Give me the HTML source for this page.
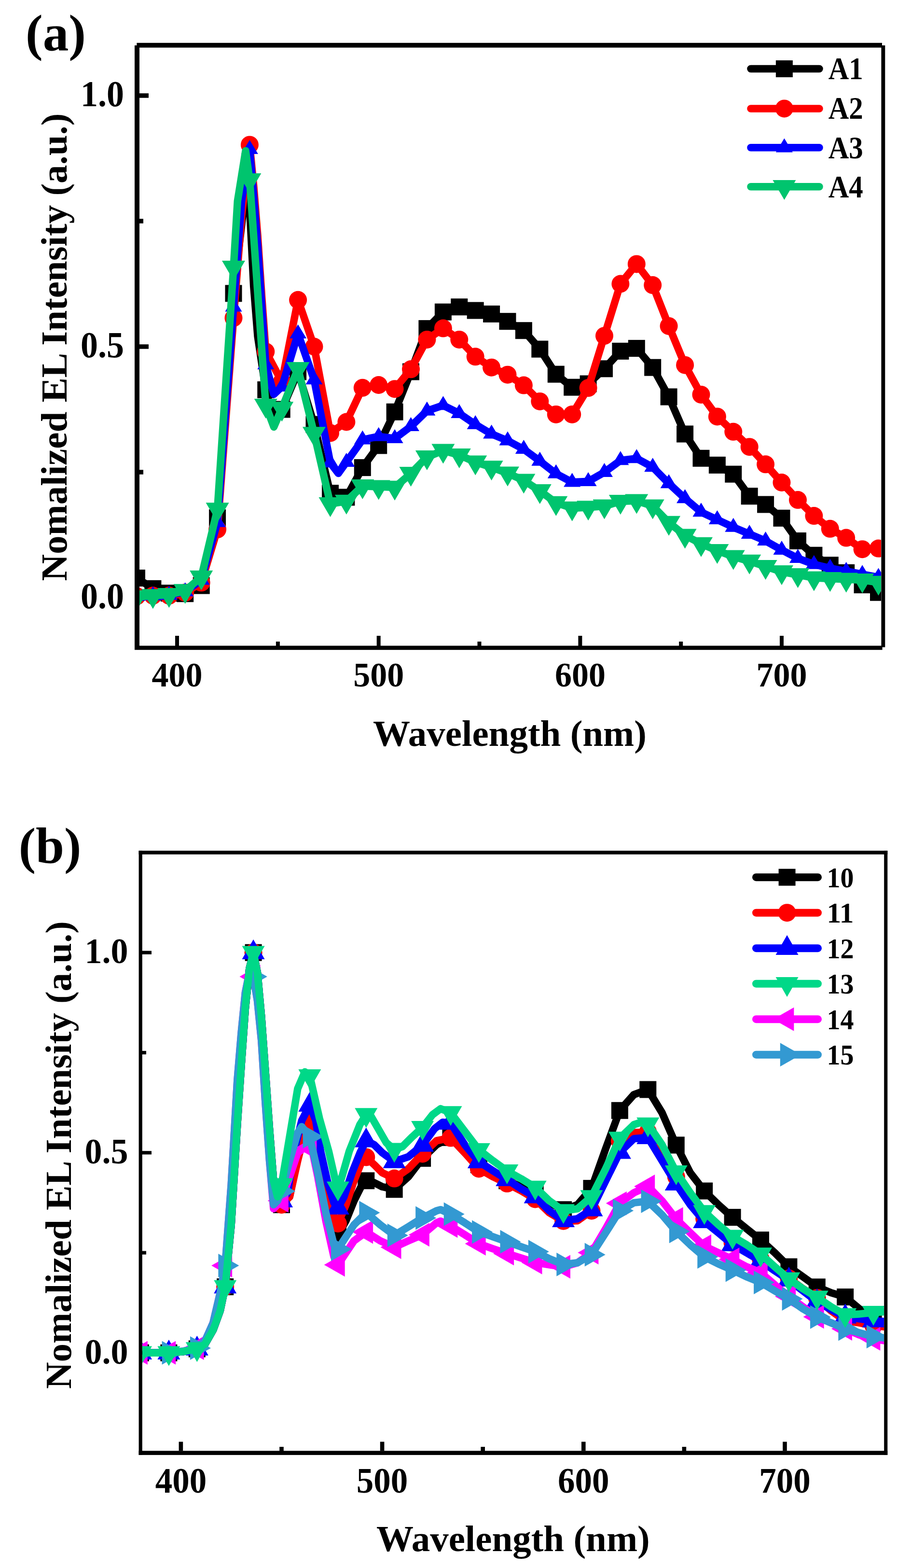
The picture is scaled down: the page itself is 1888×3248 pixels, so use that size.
<!DOCTYPE html>
<html><head><meta charset="utf-8"><title>EL spectra</title><style>html,body{margin:0;padding:0;background:#fff;}svg{display:block;}</style></head><body>
<svg width="1888" height="3248" viewBox="0 0 1888 3248">
<rect width="1888" height="3248" fill="#ffffff"/>
<defs><clipPath id="clipA"><rect x="289" y="99" width="1537" height="1238"/></clipPath><clipPath id="clipB"><rect x="295" y="1770" width="1537" height="1235"/></clipPath></defs>
<g fill="#000">
<rect x="363.0" y="1317" width="8" height="21"/>
<rect x="780.7" y="1317" width="8" height="21"/>
<rect x="1198.4" y="1317" width="8" height="21"/>
<rect x="1616.0" y="1317" width="8" height="21"/>
<rect x="571.9" y="1329" width="8" height="9"/>
<rect x="989.5" y="1329" width="8" height="9"/>
<rect x="1407.2" y="1329" width="8" height="9"/>
<rect x="289" y="1233.3" width="19" height="9.4"/>
<rect x="289" y="713.3" width="19" height="9.4"/>
<rect x="289" y="193.3" width="19" height="9.4"/>
<rect x="289" y="973.3" width="8" height="9.4"/>
<rect x="289" y="453.3" width="8" height="9.4"/>
</g>
<g clip-path="url(#clipA)">
<polyline points="283.5,1197.4 316.9,1219.3 350.3,1228.6 383.7,1229.7 417.2,1213.0 450.6,1072.6 484.0,607.8 509.0,395.6 517.4,429.9 525.7,593.2 534.1,697.2 550.8,807.4 567.5,874.0 584.2,848.0 617.6,770.0 651.0,879.2 684.5,1021.7 717.9,1030.0 751.3,968.6 784.7,922.9 818.1,853.2 851.5,770.0 884.9,680.6 918.4,646.2 951.8,635.8 985.2,643.1 1018.6,650.4 1052.0,665.7 1085.4,684.7 1118.8,723.2 1152.3,775.2 1185.7,802.2 1219.1,795.0 1252.5,763.8 1285.9,727.4 1319.3,721.6 1352.7,761.2 1386.1,822.0 1419.6,899.0 1453.0,949.3 1486.4,963.4 1519.8,982.2 1553.2,1027.8 1586.6,1045.0 1620.0,1073.3 1653.5,1120.4 1686.9,1150.2 1720.3,1170.7 1753.7,1186.3 1787.1,1211.5 1820.5,1227.2" fill="none" stroke="#000000" stroke-width="15.5" stroke-linejoin="round" stroke-linecap="round"/>
<rect x="266.0" y="1179.9" width="35.0" height="35.0" fill="#000000"/>
<rect x="299.4" y="1201.8" width="35.0" height="35.0" fill="#000000"/>
<rect x="332.8" y="1211.1" width="35.0" height="35.0" fill="#000000"/>
<rect x="366.2" y="1212.2" width="35.0" height="35.0" fill="#000000"/>
<rect x="399.7" y="1195.5" width="35.0" height="35.0" fill="#000000"/>
<rect x="433.1" y="1055.1" width="35.0" height="35.0" fill="#000000"/>
<rect x="466.5" y="590.3" width="35.0" height="35.0" fill="#000000"/>
<rect x="499.9" y="412.4" width="35.0" height="35.0" fill="#000000"/>
<rect x="533.3" y="789.9" width="35.0" height="35.0" fill="#000000"/>
<rect x="566.7" y="830.5" width="35.0" height="35.0" fill="#000000"/>
<rect x="600.1" y="752.5" width="35.0" height="35.0" fill="#000000"/>
<rect x="633.5" y="861.7" width="35.0" height="35.0" fill="#000000"/>
<rect x="667.0" y="1004.2" width="35.0" height="35.0" fill="#000000"/>
<rect x="700.4" y="1012.5" width="35.0" height="35.0" fill="#000000"/>
<rect x="733.8" y="951.1" width="35.0" height="35.0" fill="#000000"/>
<rect x="767.2" y="905.4" width="35.0" height="35.0" fill="#000000"/>
<rect x="800.6" y="835.7" width="35.0" height="35.0" fill="#000000"/>
<rect x="834.0" y="752.5" width="35.0" height="35.0" fill="#000000"/>
<rect x="867.4" y="663.1" width="35.0" height="35.0" fill="#000000"/>
<rect x="900.9" y="628.7" width="35.0" height="35.0" fill="#000000"/>
<rect x="934.3" y="618.3" width="35.0" height="35.0" fill="#000000"/>
<rect x="967.7" y="625.6" width="35.0" height="35.0" fill="#000000"/>
<rect x="1001.1" y="632.9" width="35.0" height="35.0" fill="#000000"/>
<rect x="1034.5" y="648.2" width="35.0" height="35.0" fill="#000000"/>
<rect x="1067.9" y="667.2" width="35.0" height="35.0" fill="#000000"/>
<rect x="1101.3" y="705.7" width="35.0" height="35.0" fill="#000000"/>
<rect x="1134.8" y="757.7" width="35.0" height="35.0" fill="#000000"/>
<rect x="1168.2" y="784.7" width="35.0" height="35.0" fill="#000000"/>
<rect x="1201.6" y="777.5" width="35.0" height="35.0" fill="#000000"/>
<rect x="1235.0" y="746.3" width="35.0" height="35.0" fill="#000000"/>
<rect x="1268.4" y="709.9" width="35.0" height="35.0" fill="#000000"/>
<rect x="1301.8" y="704.1" width="35.0" height="35.0" fill="#000000"/>
<rect x="1335.2" y="743.7" width="35.0" height="35.0" fill="#000000"/>
<rect x="1368.6" y="804.5" width="35.0" height="35.0" fill="#000000"/>
<rect x="1402.1" y="881.5" width="35.0" height="35.0" fill="#000000"/>
<rect x="1435.5" y="931.8" width="35.0" height="35.0" fill="#000000"/>
<rect x="1468.9" y="945.9" width="35.0" height="35.0" fill="#000000"/>
<rect x="1502.3" y="964.7" width="35.0" height="35.0" fill="#000000"/>
<rect x="1535.7" y="1010.3" width="35.0" height="35.0" fill="#000000"/>
<rect x="1569.1" y="1027.5" width="35.0" height="35.0" fill="#000000"/>
<rect x="1602.5" y="1055.8" width="35.0" height="35.0" fill="#000000"/>
<rect x="1636.0" y="1102.9" width="35.0" height="35.0" fill="#000000"/>
<rect x="1669.4" y="1132.7" width="35.0" height="35.0" fill="#000000"/>
<rect x="1702.8" y="1153.2" width="35.0" height="35.0" fill="#000000"/>
<rect x="1736.2" y="1168.8" width="35.0" height="35.0" fill="#000000"/>
<rect x="1769.6" y="1194.0" width="35.0" height="35.0" fill="#000000"/>
<rect x="1803.0" y="1209.7" width="35.0" height="35.0" fill="#000000"/>
</g>
<g clip-path="url(#clipA)">
<polyline points="283.5,1234.9 316.9,1233.8 350.3,1233.8 383.7,1227.6 417.2,1206.8 450.6,1096.6 484.0,658.7 500.7,447.6 517.4,299.9 525.7,385.2 534.1,489.2 542.5,614.0 550.8,728.4 584.2,790.8 617.6,621.3 651.0,718.0 684.5,896.9 717.9,874.0 751.3,803.3 784.7,797.5 818.1,805.7 851.5,764.8 884.9,703.4 918.4,680.1 951.8,703.4 985.2,738.8 1018.6,761.2 1052.0,776.2 1085.4,798.1 1118.8,831.4 1152.3,858.4 1185.7,858.4 1219.1,803.6 1252.5,695.7 1285.9,588.0 1319.3,546.9 1352.7,590.6 1386.1,675.4 1419.6,756.2 1453.0,817.4 1486.4,862.9 1519.8,894.3 1553.2,925.7 1586.6,961.8 1620.0,999.5 1653.5,1035.6 1686.9,1068.6 1720.3,1095.3 1753.7,1114.1 1787.1,1137.7 1820.5,1136.1" fill="none" stroke="#ff0000" stroke-width="15.5" stroke-linejoin="round" stroke-linecap="round"/>
<circle cx="283.5" cy="1234.9" r="18.5" fill="#ff0000"/>
<circle cx="316.9" cy="1233.8" r="18.5" fill="#ff0000"/>
<circle cx="350.3" cy="1233.8" r="18.5" fill="#ff0000"/>
<circle cx="383.7" cy="1227.6" r="18.5" fill="#ff0000"/>
<circle cx="417.2" cy="1206.8" r="18.5" fill="#ff0000"/>
<circle cx="450.6" cy="1096.6" r="18.5" fill="#ff0000"/>
<circle cx="484.0" cy="658.7" r="18.5" fill="#ff0000"/>
<circle cx="517.4" cy="299.9" r="18.5" fill="#ff0000"/>
<circle cx="550.8" cy="728.4" r="18.5" fill="#ff0000"/>
<circle cx="584.2" cy="790.8" r="18.5" fill="#ff0000"/>
<circle cx="617.6" cy="621.3" r="18.5" fill="#ff0000"/>
<circle cx="651.0" cy="718.0" r="18.5" fill="#ff0000"/>
<circle cx="684.5" cy="896.9" r="18.5" fill="#ff0000"/>
<circle cx="717.9" cy="874.0" r="18.5" fill="#ff0000"/>
<circle cx="751.3" cy="803.3" r="18.5" fill="#ff0000"/>
<circle cx="784.7" cy="797.5" r="18.5" fill="#ff0000"/>
<circle cx="818.1" cy="805.7" r="18.5" fill="#ff0000"/>
<circle cx="851.5" cy="764.8" r="18.5" fill="#ff0000"/>
<circle cx="884.9" cy="703.4" r="18.5" fill="#ff0000"/>
<circle cx="918.4" cy="680.1" r="18.5" fill="#ff0000"/>
<circle cx="951.8" cy="703.4" r="18.5" fill="#ff0000"/>
<circle cx="985.2" cy="738.8" r="18.5" fill="#ff0000"/>
<circle cx="1018.6" cy="761.2" r="18.5" fill="#ff0000"/>
<circle cx="1052.0" cy="776.2" r="18.5" fill="#ff0000"/>
<circle cx="1085.4" cy="798.1" r="18.5" fill="#ff0000"/>
<circle cx="1118.8" cy="831.4" r="18.5" fill="#ff0000"/>
<circle cx="1152.3" cy="858.4" r="18.5" fill="#ff0000"/>
<circle cx="1185.7" cy="858.4" r="18.5" fill="#ff0000"/>
<circle cx="1219.1" cy="803.6" r="18.5" fill="#ff0000"/>
<circle cx="1252.5" cy="695.7" r="18.5" fill="#ff0000"/>
<circle cx="1285.9" cy="588.0" r="18.5" fill="#ff0000"/>
<circle cx="1319.3" cy="546.9" r="18.5" fill="#ff0000"/>
<circle cx="1352.7" cy="590.6" r="18.5" fill="#ff0000"/>
<circle cx="1386.1" cy="675.4" r="18.5" fill="#ff0000"/>
<circle cx="1419.6" cy="756.2" r="18.5" fill="#ff0000"/>
<circle cx="1453.0" cy="817.4" r="18.5" fill="#ff0000"/>
<circle cx="1486.4" cy="862.9" r="18.5" fill="#ff0000"/>
<circle cx="1519.8" cy="894.3" r="18.5" fill="#ff0000"/>
<circle cx="1553.2" cy="925.7" r="18.5" fill="#ff0000"/>
<circle cx="1586.6" cy="961.8" r="18.5" fill="#ff0000"/>
<circle cx="1620.0" cy="999.5" r="18.5" fill="#ff0000"/>
<circle cx="1653.5" cy="1035.6" r="18.5" fill="#ff0000"/>
<circle cx="1686.9" cy="1068.6" r="18.5" fill="#ff0000"/>
<circle cx="1720.3" cy="1095.3" r="18.5" fill="#ff0000"/>
<circle cx="1753.7" cy="1114.1" r="18.5" fill="#ff0000"/>
<circle cx="1787.1" cy="1137.7" r="18.5" fill="#ff0000"/>
<circle cx="1820.5" cy="1136.1" r="18.5" fill="#ff0000"/>
</g>
<g clip-path="url(#clipA)">
<polyline points="283.5,1234.9 316.9,1233.8 350.3,1232.8 383.7,1225.5 417.2,1201.6 450.6,1082.0 484.0,635.8 500.7,416.4 517.4,309.3 525.7,406.0 534.1,510.0 542.5,634.8 550.8,755.4 567.5,816.8 584.2,801.2 617.6,691.3 651.0,786.6 684.5,958.6 701.2,980.5 717.9,957.2 751.3,910.8 784.7,904.2 818.1,908.3 851.5,883.4 884.9,851.1 918.4,839.7 951.8,856.3 985.2,879.2 1018.6,899.0 1052.0,912.8 1085.4,930.5 1118.8,955.1 1152.3,981.1 1185.7,998.8 1219.1,997.3 1252.5,978.3 1285.9,953.7 1319.3,949.6 1352.7,967.6 1386.1,1001.5 1419.6,1032.5 1453.0,1060.7 1486.4,1076.4 1519.8,1092.1 1553.2,1106.2 1586.6,1120.4 1620.0,1139.2 1653.5,1156.5 1686.9,1169.0 1720.3,1177.0 1753.7,1183.2 1787.1,1189.5 1820.5,1195.8" fill="none" stroke="#0000ff" stroke-width="15.5" stroke-linejoin="round" stroke-linecap="round"/>
<polygon points="283.5,1215.5 301.0,1244.5 266.0,1244.5" fill="#0000ff"/>
<polygon points="316.9,1214.5 334.4,1243.5 299.4,1243.5" fill="#0000ff"/>
<polygon points="350.3,1213.5 367.8,1242.5 332.8,1242.5" fill="#0000ff"/>
<polygon points="383.7,1206.2 401.2,1235.2 366.2,1235.2" fill="#0000ff"/>
<polygon points="417.2,1182.3 434.7,1211.3 399.7,1211.3" fill="#0000ff"/>
<polygon points="450.6,1062.7 468.1,1091.7 433.1,1091.7" fill="#0000ff"/>
<polygon points="484.0,616.5 501.5,645.5 466.5,645.5" fill="#0000ff"/>
<polygon points="517.4,289.9 534.9,318.9 499.9,318.9" fill="#0000ff"/>
<polygon points="550.8,736.1 568.3,765.1 533.3,765.1" fill="#0000ff"/>
<polygon points="584.2,781.9 601.7,810.9 566.7,810.9" fill="#0000ff"/>
<polygon points="617.6,671.9 635.1,700.9 600.1,700.9" fill="#0000ff"/>
<polygon points="651.0,767.3 668.5,796.3 633.5,796.3" fill="#0000ff"/>
<polygon points="684.5,939.2 702.0,968.2 667.0,968.2" fill="#0000ff"/>
<polygon points="717.9,937.9 735.4,966.9 700.4,966.9" fill="#0000ff"/>
<polygon points="751.3,891.5 768.8,920.5 733.8,920.5" fill="#0000ff"/>
<polygon points="784.7,884.8 802.2,913.8 767.2,913.8" fill="#0000ff"/>
<polygon points="818.1,889.0 835.6,918.0 800.6,918.0" fill="#0000ff"/>
<polygon points="851.5,864.0 869.0,893.0 834.0,893.0" fill="#0000ff"/>
<polygon points="884.9,831.8 902.4,860.8 867.4,860.8" fill="#0000ff"/>
<polygon points="918.4,820.3 935.9,849.3 900.9,849.3" fill="#0000ff"/>
<polygon points="951.8,837.0 969.3,866.0 934.3,866.0" fill="#0000ff"/>
<polygon points="985.2,859.9 1002.7,888.9 967.7,888.9" fill="#0000ff"/>
<polygon points="1018.6,879.6 1036.1,908.6 1001.1,908.6" fill="#0000ff"/>
<polygon points="1052.0,893.5 1069.5,922.5 1034.5,922.5" fill="#0000ff"/>
<polygon points="1085.4,911.1 1102.9,940.1 1067.9,940.1" fill="#0000ff"/>
<polygon points="1118.8,935.8 1136.3,964.8 1101.3,964.8" fill="#0000ff"/>
<polygon points="1152.3,961.8 1169.8,990.8 1134.8,990.8" fill="#0000ff"/>
<polygon points="1185.7,979.5 1203.2,1008.5 1168.2,1008.5" fill="#0000ff"/>
<polygon points="1219.1,978.0 1236.6,1007.0 1201.6,1007.0" fill="#0000ff"/>
<polygon points="1252.5,959.0 1270.0,988.0 1235.0,988.0" fill="#0000ff"/>
<polygon points="1285.9,934.3 1303.4,963.3 1268.4,963.3" fill="#0000ff"/>
<polygon points="1319.3,930.3 1336.8,959.3 1301.8,959.3" fill="#0000ff"/>
<polygon points="1352.7,948.3 1370.2,977.3 1335.2,977.3" fill="#0000ff"/>
<polygon points="1386.1,982.2 1403.6,1011.2 1368.6,1011.2" fill="#0000ff"/>
<polygon points="1419.6,1013.2 1437.1,1042.2 1402.1,1042.2" fill="#0000ff"/>
<polygon points="1453.0,1041.3 1470.5,1070.3 1435.5,1070.3" fill="#0000ff"/>
<polygon points="1486.4,1057.1 1503.9,1086.1 1468.9,1086.1" fill="#0000ff"/>
<polygon points="1519.8,1072.8 1537.3,1101.8 1502.3,1101.8" fill="#0000ff"/>
<polygon points="1553.2,1086.9 1570.7,1115.9 1535.7,1115.9" fill="#0000ff"/>
<polygon points="1586.6,1101.0 1604.1,1130.0 1569.1,1130.0" fill="#0000ff"/>
<polygon points="1620.0,1119.9 1637.5,1148.9 1602.5,1148.9" fill="#0000ff"/>
<polygon points="1653.5,1137.1 1671.0,1166.1 1636.0,1166.1" fill="#0000ff"/>
<polygon points="1686.9,1149.7 1704.4,1178.7 1669.4,1178.7" fill="#0000ff"/>
<polygon points="1720.3,1157.6 1737.8,1186.6 1702.8,1186.6" fill="#0000ff"/>
<polygon points="1753.7,1163.9 1771.2,1192.9 1736.2,1192.9" fill="#0000ff"/>
<polygon points="1787.1,1170.2 1804.6,1199.2 1769.6,1199.2" fill="#0000ff"/>
<polygon points="1820.5,1176.4 1838.0,1205.4 1803.0,1205.4" fill="#0000ff"/>
</g>
<g clip-path="url(#clipA)">
<polyline points="283.5,1236.4 316.9,1233.8 350.3,1231.8 383.7,1223.4 417.2,1195.4 450.6,1055.0 484.0,553.7 492.3,416.4 509.0,312.4 517.4,372.7 550.8,839.7 567.5,884.4 584.2,845.9 617.6,763.8 651.0,897.9 684.5,1043.5 717.9,1038.3 751.3,1006.7 784.7,1008.2 818.1,1009.4 851.5,980.8 884.9,946.8 918.4,933.3 951.8,942.6 985.2,957.2 1018.6,968.0 1052.0,980.1 1085.4,995.1 1118.8,1016.8 1152.3,1041.4 1185.7,1052.4 1219.1,1051.0 1252.5,1048.2 1285.9,1038.6 1319.3,1037.3 1352.7,1048.2 1386.1,1082.4 1419.6,1109.0 1453.0,1126.4 1486.4,1140.6 1519.8,1153.1 1553.2,1162.5 1586.6,1173.5 1620.0,1184.5 1653.5,1190.7 1686.9,1197.0 1720.3,1198.6 1753.7,1200.1 1787.1,1201.7 1820.5,1206.4" fill="none" stroke="#00c46e" stroke-width="15.5" stroke-linejoin="round" stroke-linecap="round"/>
<polygon points="283.5,1263.8 307.5,1222.8 259.5,1222.8" fill="#00c46e"/>
<polygon points="316.9,1261.2 340.9,1220.2 292.9,1220.2" fill="#00c46e"/>
<polygon points="350.3,1259.1 374.3,1218.1 326.3,1218.1" fill="#00c46e"/>
<polygon points="383.7,1250.8 407.7,1209.8 359.7,1209.8" fill="#00c46e"/>
<polygon points="417.2,1222.7 441.2,1181.7 393.2,1181.7" fill="#00c46e"/>
<polygon points="450.6,1082.3 474.6,1041.3 426.6,1041.3" fill="#00c46e"/>
<polygon points="484.0,581.0 508.0,540.0 460.0,540.0" fill="#00c46e"/>
<polygon points="517.4,400.1 541.4,359.1 493.4,359.1" fill="#00c46e"/>
<polygon points="550.8,867.0 574.8,826.0 526.8,826.0" fill="#00c46e"/>
<polygon points="584.2,873.3 608.2,832.3 560.2,832.3" fill="#00c46e"/>
<polygon points="617.6,791.1 641.6,750.1 593.6,750.1" fill="#00c46e"/>
<polygon points="651.0,925.3 675.0,884.3 627.0,884.3" fill="#00c46e"/>
<polygon points="684.5,1070.9 708.5,1029.9 660.5,1029.9" fill="#00c46e"/>
<polygon points="717.9,1065.7 741.9,1024.7 693.9,1024.7" fill="#00c46e"/>
<polygon points="751.3,1034.0 775.3,993.0 727.3,993.0" fill="#00c46e"/>
<polygon points="784.7,1035.5 808.7,994.5 760.7,994.5" fill="#00c46e"/>
<polygon points="818.1,1036.7 842.1,995.7 794.1,995.7" fill="#00c46e"/>
<polygon points="851.5,1008.1 875.5,967.1 827.5,967.1" fill="#00c46e"/>
<polygon points="884.9,974.1 908.9,933.1 860.9,933.1" fill="#00c46e"/>
<polygon points="918.4,960.6 942.4,919.6 894.4,919.6" fill="#00c46e"/>
<polygon points="951.8,970.0 975.8,929.0 927.8,929.0" fill="#00c46e"/>
<polygon points="985.2,984.5 1009.2,943.5 961.2,943.5" fill="#00c46e"/>
<polygon points="1018.6,995.3 1042.6,954.3 994.6,954.3" fill="#00c46e"/>
<polygon points="1052.0,1007.4 1076.0,966.4 1028.0,966.4" fill="#00c46e"/>
<polygon points="1085.4,1022.4 1109.4,981.4 1061.4,981.4" fill="#00c46e"/>
<polygon points="1118.8,1044.1 1142.8,1003.1 1094.8,1003.1" fill="#00c46e"/>
<polygon points="1152.3,1068.8 1176.3,1027.8 1128.3,1027.8" fill="#00c46e"/>
<polygon points="1185.7,1079.7 1209.7,1038.7 1161.7,1038.7" fill="#00c46e"/>
<polygon points="1219.1,1078.3 1243.1,1037.3 1195.1,1037.3" fill="#00c46e"/>
<polygon points="1252.5,1075.5 1276.5,1034.5 1228.5,1034.5" fill="#00c46e"/>
<polygon points="1285.9,1066.0 1309.9,1025.0 1261.9,1025.0" fill="#00c46e"/>
<polygon points="1319.3,1064.6 1343.3,1023.6 1295.3,1023.6" fill="#00c46e"/>
<polygon points="1352.7,1075.5 1376.7,1034.5 1328.7,1034.5" fill="#00c46e"/>
<polygon points="1386.1,1109.7 1410.1,1068.7 1362.1,1068.7" fill="#00c46e"/>
<polygon points="1419.6,1136.4 1443.6,1095.4 1395.6,1095.4" fill="#00c46e"/>
<polygon points="1453.0,1153.7 1477.0,1112.7 1429.0,1112.7" fill="#00c46e"/>
<polygon points="1486.4,1167.9 1510.4,1126.9 1462.4,1126.9" fill="#00c46e"/>
<polygon points="1519.8,1180.5 1543.8,1139.5 1495.8,1139.5" fill="#00c46e"/>
<polygon points="1553.2,1189.8 1577.2,1148.8 1529.2,1148.8" fill="#00c46e"/>
<polygon points="1586.6,1200.9 1610.6,1159.9 1562.6,1159.9" fill="#00c46e"/>
<polygon points="1620.0,1211.9 1644.0,1170.9 1596.0,1170.9" fill="#00c46e"/>
<polygon points="1653.5,1218.0 1677.5,1177.0 1629.5,1177.0" fill="#00c46e"/>
<polygon points="1686.9,1224.4 1710.9,1183.4 1662.9,1183.4" fill="#00c46e"/>
<polygon points="1720.3,1225.9 1744.3,1184.9 1696.3,1184.9" fill="#00c46e"/>
<polygon points="1753.7,1227.5 1777.7,1186.5 1729.7,1186.5" fill="#00c46e"/>
<polygon points="1787.1,1229.0 1811.1,1188.0 1763.1,1188.0" fill="#00c46e"/>
<polygon points="1820.5,1233.7 1844.5,1192.7 1796.5,1192.7" fill="#00c46e"/>
</g>
<g fill="#000">
<rect x="279" y="94" width="10" height="1250"/>
<rect x="283.4" y="88.8" width="1544.6" height="9.8"/>
<rect x="1826.4" y="94" width="7.9" height="1246.6"/>
<rect x="279" y="1337.6" width="1549.6" height="8.6"/>
</g>
<text transform="translate(257,1259.5) scale(1,1.05)" text-anchor="end" style="font-family:'Liberation Serif','Times New Roman',serif;font-weight:bold;font-size:72px">0.0</text>
<text transform="translate(257,739.5) scale(1,1.05)" text-anchor="end" style="font-family:'Liberation Serif','Times New Roman',serif;font-weight:bold;font-size:72px">0.5</text>
<text transform="translate(257,219.5) scale(1,1.05)" text-anchor="end" style="font-family:'Liberation Serif','Times New Roman',serif;font-weight:bold;font-size:72px">1.0</text>
<text transform="translate(367.0,1422.4) scale(1,1.04)" text-anchor="middle" style="font-family:'Liberation Serif','Times New Roman',serif;font-weight:bold;font-size:70px">400</text>
<text transform="translate(784.7,1422.4) scale(1,1.04)" text-anchor="middle" style="font-family:'Liberation Serif','Times New Roman',serif;font-weight:bold;font-size:70px">500</text>
<text transform="translate(1202.4,1422.4) scale(1,1.04)" text-anchor="middle" style="font-family:'Liberation Serif','Times New Roman',serif;font-weight:bold;font-size:70px">600</text>
<text transform="translate(1620.0,1422.4) scale(1,1.04)" text-anchor="middle" style="font-family:'Liberation Serif','Times New Roman',serif;font-weight:bold;font-size:70px">700</text>
<text x="1056.5" y="1545.2" text-anchor="middle" style="font-family:'Liberation Serif','Times New Roman',serif;font-weight:bold;font-size:77px">Wavelength (nm)</text>
<text transform="translate(138.4,719) rotate(-90)" x="0" y="0" text-anchor="middle" style="font-family:'Liberation Serif','Times New Roman',serif;font-weight:bold;font-size:77px">Nomalized EL Intensity (a.u.)</text>
<text x="53" y="104.3" textLength="125" lengthAdjust="spacingAndGlyphs" style="font-family:'Liberation Serif','Times New Roman',serif;font-weight:bold;font-size:105px">(a)</text>
<line x1="1556" y1="142.5" x2="1698" y2="142.5" stroke="#000000" stroke-width="15.5" stroke-linecap="round"/>
<rect x="1607.9" y="125.0" width="35.0" height="35.0" fill="#000000"/>
<text x="1716.8" y="164" textLength="72" lengthAdjust="spacingAndGlyphs" style="font-family:'Liberation Serif','Times New Roman',serif;font-weight:bold;font-size:65px">A1</text>
<line x1="1556" y1="224.9" x2="1698" y2="224.9" stroke="#ff0000" stroke-width="15.5" stroke-linecap="round"/>
<circle cx="1625.4" cy="224.9" r="18.5" fill="#ff0000"/>
<text x="1716.8" y="246.4" textLength="72" lengthAdjust="spacingAndGlyphs" style="font-family:'Liberation Serif','Times New Roman',serif;font-weight:bold;font-size:65px">A2</text>
<line x1="1556" y1="305.8" x2="1698" y2="305.8" stroke="#0000ff" stroke-width="15.5" stroke-linecap="round"/>
<polygon points="1625.4,286.5 1642.9,315.5 1607.9,315.5" fill="#0000ff"/>
<text x="1716.8" y="328.3" textLength="72" lengthAdjust="spacingAndGlyphs" style="font-family:'Liberation Serif','Times New Roman',serif;font-weight:bold;font-size:65px">A3</text>
<line x1="1556" y1="386.7" x2="1698" y2="386.7" stroke="#00c46e" stroke-width="15.5" stroke-linecap="round"/>
<polygon points="1625.4,414.0 1649.4,373.0 1601.4,373.0" fill="#00c46e"/>
<text x="1716.8" y="409.2" textLength="72" lengthAdjust="spacingAndGlyphs" style="font-family:'Liberation Serif','Times New Roman',serif;font-weight:bold;font-size:65px">A4</text>
<g fill="#000">
<rect x="370.6" y="2986.5" width="8.6" height="19"/>
<rect x="787.8" y="2986.5" width="8.6" height="19"/>
<rect x="1205.0" y="2986.5" width="8.6" height="19"/>
<rect x="1622.2" y="2986.5" width="8.6" height="19"/>
<rect x="579.2" y="2997" width="8.6" height="9"/>
<rect x="996.4" y="2997" width="8.6" height="9"/>
<rect x="1413.6" y="2997" width="8.6" height="9"/>
<rect x="294" y="2798.7" width="20" height="7.2"/>
<rect x="294" y="2384.2" width="20" height="7.2"/>
<rect x="294" y="1969.6" width="20" height="7.2"/>
<rect x="294" y="2591.4" width="9" height="7.2"/>
<rect x="294" y="2176.9" width="9" height="7.2"/>
</g>
<g clip-path="url(#clipB)">
<polyline points="291.5,2802.3 320.7,2802.3 349.9,2802.3 379.1,2799.8 408.3,2794.0 425.0,2784.1 441.7,2755.0 456.3,2715.2 466.7,2665.5 479.2,2537.0 491.8,2329.7 500.1,2205.4 508.4,2089.3 516.8,2006.4 525.1,1973.2 533.5,2014.7 541.8,2105.9 550.2,2222.0 558.5,2338.0 566.9,2445.8 575.2,2491.4 583.5,2495.5 600.2,2479.0 616.9,2396.1 629.4,2323.9 641.9,2336.8 654.5,2371.2 671.2,2462.4 687.8,2528.7 700.4,2557.7 717.0,2528.7 733.7,2487.3 750.4,2454.1 758.8,2445.8 775.5,2449.9 792.1,2458.2 817.2,2463.7 846.4,2437.5 875.6,2399.4 904.8,2371.2 934.0,2356.3 963.2,2387.8 992.4,2412.6 1021.6,2429.2 1050.8,2445.8 1080.0,2458.2 1109.2,2470.7 1138.4,2491.4 1167.6,2505.7 1196.8,2495.5 1226.0,2461.6 1255.2,2379.5 1284.4,2300.3 1313.6,2267.5 1342.8,2256.9 1372.0,2304.9 1401.3,2372.0 1430.5,2429.2 1459.7,2467.0 1488.9,2495.5 1518.1,2521.6 1547.3,2545.3 1576.5,2568.6 1605.7,2595.0 1634.9,2624.0 1664.1,2644.8 1693.3,2665.9 1722.5,2677.9 1751.7,2686.6 1780.9,2711.1 1810.1,2731.8 1835.1,2740.1" fill="none" stroke="#000000" stroke-width="15.5" stroke-linejoin="round" stroke-linecap="round"/>
<rect x="274.0" y="2784.8" width="35.0" height="35.0" fill="#000000"/>
<rect x="332.4" y="2784.8" width="35.0" height="35.0" fill="#000000"/>
<rect x="390.8" y="2776.5" width="35.0" height="35.0" fill="#000000"/>
<rect x="449.2" y="2648.0" width="35.0" height="35.0" fill="#000000"/>
<rect x="507.6" y="1955.7" width="35.0" height="35.0" fill="#000000"/>
<rect x="566.0" y="2478.0" width="35.0" height="35.0" fill="#000000"/>
<rect x="624.4" y="2319.3" width="35.0" height="35.0" fill="#000000"/>
<rect x="682.9" y="2540.2" width="35.0" height="35.0" fill="#000000"/>
<rect x="741.3" y="2428.3" width="35.0" height="35.0" fill="#000000"/>
<rect x="799.7" y="2446.2" width="35.0" height="35.0" fill="#000000"/>
<rect x="858.1" y="2381.9" width="35.0" height="35.0" fill="#000000"/>
<rect x="916.5" y="2338.8" width="35.0" height="35.0" fill="#000000"/>
<rect x="974.9" y="2395.1" width="35.0" height="35.0" fill="#000000"/>
<rect x="1033.3" y="2428.3" width="35.0" height="35.0" fill="#000000"/>
<rect x="1091.7" y="2453.2" width="35.0" height="35.0" fill="#000000"/>
<rect x="1150.1" y="2488.2" width="35.0" height="35.0" fill="#000000"/>
<rect x="1208.5" y="2444.1" width="35.0" height="35.0" fill="#000000"/>
<rect x="1266.9" y="2282.8" width="35.0" height="35.0" fill="#000000"/>
<rect x="1325.3" y="2239.4" width="35.0" height="35.0" fill="#000000"/>
<rect x="1383.8" y="2354.5" width="35.0" height="35.0" fill="#000000"/>
<rect x="1442.2" y="2449.5" width="35.0" height="35.0" fill="#000000"/>
<rect x="1500.6" y="2504.1" width="35.0" height="35.0" fill="#000000"/>
<rect x="1559.0" y="2551.1" width="35.0" height="35.0" fill="#000000"/>
<rect x="1617.4" y="2606.5" width="35.0" height="35.0" fill="#000000"/>
<rect x="1675.8" y="2648.4" width="35.0" height="35.0" fill="#000000"/>
<rect x="1734.2" y="2669.1" width="35.0" height="35.0" fill="#000000"/>
<rect x="1792.6" y="2714.3" width="35.0" height="35.0" fill="#000000"/>
</g>
<g clip-path="url(#clipB)">
<polyline points="291.5,2802.3 320.7,2802.3 349.9,2802.3 379.1,2799.8 408.3,2794.0 425.0,2784.1 441.7,2755.0 456.3,2715.2 466.7,2665.5 479.2,2537.0 491.8,2329.7 500.1,2205.4 508.4,2089.3 516.8,2006.4 525.1,1973.2 533.5,2014.7 541.8,2105.9 550.2,2222.0 558.5,2338.0 566.9,2445.8 575.2,2491.4 583.5,2495.5 600.2,2479.0 616.9,2404.3 633.6,2338.0 641.9,2321.4 650.3,2338.0 660.7,2384.8 670.7,2453.0 683.7,2503.8 700.4,2534.5 717.0,2495.5 733.7,2445.8 750.4,2404.3 758.8,2396.9 775.5,2412.6 792.1,2429.2 817.2,2441.1 846.4,2420.9 875.6,2390.0 904.8,2362.9 934.0,2357.1 963.2,2387.8 992.4,2420.9 1021.6,2437.5 1050.8,2451.6 1080.0,2466.5 1109.2,2483.9 1138.4,2512.1 1167.6,2529.2 1196.8,2528.7 1226.0,2508.0 1255.2,2437.5 1284.4,2363.7 1313.6,2346.3 1342.8,2344.9 1372.0,2387.8 1401.3,2437.5 1430.5,2487.3 1459.7,2524.6 1488.9,2549.4 1518.1,2574.3 1547.3,2590.9 1576.5,2608.3 1605.7,2628.2 1634.9,2648.1 1664.1,2669.6 1693.3,2688.7 1722.5,2715.2 1751.7,2736.0 1780.9,2740.1 1810.1,2745.9 1835.1,2748.4" fill="none" stroke="#ff0000" stroke-width="15.5" stroke-linejoin="round" stroke-linecap="round"/>
<circle cx="291.5" cy="2802.3" r="18.5" fill="#ff0000"/>
<circle cx="349.9" cy="2802.3" r="18.5" fill="#ff0000"/>
<circle cx="408.3" cy="2794.0" r="18.5" fill="#ff0000"/>
<circle cx="466.7" cy="2665.5" r="18.5" fill="#ff0000"/>
<circle cx="525.1" cy="1973.2" r="18.5" fill="#ff0000"/>
<circle cx="583.5" cy="2495.5" r="18.5" fill="#ff0000"/>
<circle cx="641.9" cy="2321.4" r="18.5" fill="#ff0000"/>
<circle cx="700.4" cy="2534.5" r="18.5" fill="#ff0000"/>
<circle cx="758.8" cy="2396.9" r="18.5" fill="#ff0000"/>
<circle cx="817.2" cy="2441.1" r="18.5" fill="#ff0000"/>
<circle cx="875.6" cy="2390.0" r="18.5" fill="#ff0000"/>
<circle cx="934.0" cy="2357.1" r="18.5" fill="#ff0000"/>
<circle cx="992.4" cy="2420.9" r="18.5" fill="#ff0000"/>
<circle cx="1050.8" cy="2451.6" r="18.5" fill="#ff0000"/>
<circle cx="1109.2" cy="2483.9" r="18.5" fill="#ff0000"/>
<circle cx="1167.6" cy="2529.2" r="18.5" fill="#ff0000"/>
<circle cx="1226.0" cy="2508.0" r="18.5" fill="#ff0000"/>
<circle cx="1284.4" cy="2363.7" r="18.5" fill="#ff0000"/>
<circle cx="1342.8" cy="2344.9" r="18.5" fill="#ff0000"/>
<circle cx="1401.3" cy="2437.5" r="18.5" fill="#ff0000"/>
<circle cx="1459.7" cy="2524.6" r="18.5" fill="#ff0000"/>
<circle cx="1518.1" cy="2574.3" r="18.5" fill="#ff0000"/>
<circle cx="1576.5" cy="2608.3" r="18.5" fill="#ff0000"/>
<circle cx="1634.9" cy="2648.1" r="18.5" fill="#ff0000"/>
<circle cx="1693.3" cy="2688.7" r="18.5" fill="#ff0000"/>
<circle cx="1751.7" cy="2736.0" r="18.5" fill="#ff0000"/>
<circle cx="1810.1" cy="2745.9" r="18.5" fill="#ff0000"/>
</g>
<g clip-path="url(#clipB)">
<polyline points="291.5,2802.3 320.7,2802.3 349.9,2802.3 379.1,2799.8 408.3,2794.0 425.0,2784.1 441.7,2755.0 456.3,2715.2 466.7,2665.5 479.2,2537.0 491.8,2329.7 500.1,2205.4 508.4,2089.3 516.8,2006.4 525.1,1973.2 533.5,2014.7 541.8,2105.9 550.2,2222.0 558.5,2338.0 566.9,2445.8 575.2,2479.0 583.5,2487.3 596.1,2470.7 608.6,2387.8 625.3,2321.4 641.9,2289.1 654.5,2321.4 664.5,2384.8 679.9,2453.0 692.0,2491.4 700.4,2502.2 712.9,2479.0 729.6,2429.2 746.2,2387.8 758.8,2362.9 775.5,2371.2 792.1,2387.8 817.2,2406.0 846.4,2396.1 875.6,2372.0 900.6,2338.0 917.3,2324.8 934.0,2326.4 963.2,2371.2 992.4,2406.4 1021.6,2425.1 1050.8,2443.3 1080.0,2462.4 1109.2,2479.0 1138.4,2508.0 1167.6,2528.3 1196.8,2524.6 1226.0,2505.7 1255.2,2445.8 1284.4,2386.9 1313.6,2358.7 1342.8,2356.3 1372.0,2404.3 1401.3,2452.4 1430.5,2495.5 1459.7,2530.2 1488.9,2553.6 1518.1,2578.0 1547.3,2595.0 1576.5,2612.1 1605.7,2632.3 1634.9,2651.4 1664.1,2673.8 1693.3,2696.2 1722.5,2712.8 1751.7,2727.7 1780.9,2731.8 1810.1,2736.0 1835.1,2737.6" fill="none" stroke="#0000ff" stroke-width="15.5" stroke-linejoin="round" stroke-linecap="round"/>
<polygon points="291.5,2775.0 315.0,2816.0 268.0,2816.0" fill="#0000ff"/>
<polygon points="349.9,2775.0 373.4,2816.0 326.4,2816.0" fill="#0000ff"/>
<polygon points="408.3,2766.7 431.8,2807.7 384.8,2807.7" fill="#0000ff"/>
<polygon points="466.7,2638.2 490.2,2679.2 443.2,2679.2" fill="#0000ff"/>
<polygon points="525.1,1945.9 548.6,1986.9 501.6,1986.9" fill="#0000ff"/>
<polygon points="583.5,2459.9 607.0,2500.9 560.0,2500.9" fill="#0000ff"/>
<polygon points="641.9,2261.8 665.4,2302.8 618.4,2302.8" fill="#0000ff"/>
<polygon points="700.4,2474.8 723.9,2515.8 676.9,2515.8" fill="#0000ff"/>
<polygon points="758.8,2335.6 782.3,2376.6 735.3,2376.6" fill="#0000ff"/>
<polygon points="817.2,2378.7 840.7,2419.7 793.7,2419.7" fill="#0000ff"/>
<polygon points="875.6,2344.7 899.1,2385.7 852.1,2385.7" fill="#0000ff"/>
<polygon points="934.0,2299.1 957.5,2340.1 910.5,2340.1" fill="#0000ff"/>
<polygon points="992.4,2379.1 1015.9,2420.1 968.9,2420.1" fill="#0000ff"/>
<polygon points="1050.8,2416.0 1074.3,2457.0 1027.3,2457.0" fill="#0000ff"/>
<polygon points="1109.2,2451.6 1132.7,2492.6 1085.7,2492.6" fill="#0000ff"/>
<polygon points="1167.6,2501.0 1191.1,2542.0 1144.1,2542.0" fill="#0000ff"/>
<polygon points="1226.0,2478.4 1249.5,2519.4 1202.5,2519.4" fill="#0000ff"/>
<polygon points="1284.4,2359.6 1307.9,2400.6 1260.9,2400.6" fill="#0000ff"/>
<polygon points="1342.8,2328.9 1366.3,2369.9 1319.3,2369.9" fill="#0000ff"/>
<polygon points="1401.3,2425.1 1424.8,2466.1 1377.8,2466.1" fill="#0000ff"/>
<polygon points="1459.7,2502.9 1483.2,2543.9 1436.2,2543.9" fill="#0000ff"/>
<polygon points="1518.1,2550.7 1541.6,2591.7 1494.6,2591.7" fill="#0000ff"/>
<polygon points="1576.5,2584.8 1600.0,2625.8 1553.0,2625.8" fill="#0000ff"/>
<polygon points="1634.9,2624.1 1658.4,2665.1 1611.4,2665.1" fill="#0000ff"/>
<polygon points="1693.3,2668.8 1716.8,2709.8 1669.8,2709.8" fill="#0000ff"/>
<polygon points="1751.7,2700.4 1775.2,2741.4 1728.2,2741.4" fill="#0000ff"/>
<polygon points="1810.1,2708.6 1833.6,2749.6 1786.6,2749.6" fill="#0000ff"/>
</g>
<g clip-path="url(#clipB)">
<polyline points="291.5,2802.3 320.7,2802.3 349.9,2802.3 379.1,2799.0 408.3,2792.4 425.0,2777.4 441.7,2740.1 456.3,2677.9 466.7,2621.6 479.2,2454.1 491.8,2238.5 500.1,2139.0 508.4,2056.1 516.8,2014.7 525.1,2023.0 533.5,2072.7 541.8,2155.6 550.2,2288.3 558.5,2404.3 566.9,2503.8 575.2,2495.5 583.5,2487.3 600.2,2437.5 616.9,2387.8 633.6,2375.3 646.1,2377.8 658.6,2437.5 675.3,2528.7 692.0,2603.3 700.4,2619.9 717.0,2595.0 733.7,2570.2 758.8,2551.9 788.0,2570.2 817.2,2583.4 846.4,2570.2 875.6,2557.7 904.8,2532.9 913.1,2529.5 934.0,2539.5 963.2,2557.7 992.4,2576.3 1021.6,2586.7 1050.8,2596.7 1080.0,2605.8 1109.2,2615.2 1138.4,2619.9 1167.6,2624.0 1196.8,2615.8 1226.0,2594.8 1255.2,2545.3 1284.4,2492.4 1313.6,2470.7 1342.8,2457.4 1372.0,2487.3 1401.3,2525.0 1430.5,2553.6 1459.7,2581.4 1488.9,2595.0 1518.1,2608.7 1547.3,2624.0 1576.5,2636.0 1605.7,2661.4 1634.9,2685.4 1664.1,2707.0 1693.3,2727.7 1722.5,2740.1 1751.7,2752.6 1780.9,2765.0 1810.1,2773.3 1835.1,2777.4" fill="none" stroke="#ff00ff" stroke-width="15.5" stroke-linejoin="round" stroke-linecap="round"/>
<polygon points="262.8,2802.3 305.8,2777.8 305.8,2826.8" fill="#ff00ff"/>
<polygon points="321.2,2802.3 364.2,2777.8 364.2,2826.8" fill="#ff00ff"/>
<polygon points="379.6,2792.4 422.6,2767.9 422.6,2816.9" fill="#ff00ff"/>
<polygon points="438.1,2621.6 481.1,2597.1 481.1,2646.1" fill="#ff00ff"/>
<polygon points="496.5,2023.0 539.5,1998.5 539.5,2047.5" fill="#ff00ff"/>
<polygon points="554.9,2487.3 597.9,2462.8 597.9,2511.8" fill="#ff00ff"/>
<polygon points="613.3,2377.0 656.3,2352.5 656.3,2401.5" fill="#ff00ff"/>
<polygon points="671.7,2619.9 714.7,2595.4 714.7,2644.4" fill="#ff00ff"/>
<polygon points="730.1,2551.9 773.1,2527.4 773.1,2576.4" fill="#ff00ff"/>
<polygon points="788.5,2583.4 831.5,2558.9 831.5,2607.9" fill="#ff00ff"/>
<polygon points="846.9,2557.7 889.9,2533.2 889.9,2582.2" fill="#ff00ff"/>
<polygon points="905.3,2539.5 948.3,2515.0 948.3,2564.0" fill="#ff00ff"/>
<polygon points="963.7,2576.3 1006.7,2551.8 1006.7,2600.8" fill="#ff00ff"/>
<polygon points="1022.1,2596.7 1065.1,2572.2 1065.1,2621.2" fill="#ff00ff"/>
<polygon points="1080.5,2615.2 1123.5,2590.7 1123.5,2639.7" fill="#ff00ff"/>
<polygon points="1139.0,2624.0 1182.0,2599.5 1182.0,2648.5" fill="#ff00ff"/>
<polygon points="1197.4,2594.8 1240.4,2570.3 1240.4,2619.3" fill="#ff00ff"/>
<polygon points="1255.8,2492.4 1298.8,2467.9 1298.8,2516.9" fill="#ff00ff"/>
<polygon points="1314.2,2457.4 1357.2,2432.9 1357.2,2481.9" fill="#ff00ff"/>
<polygon points="1372.6,2525.0 1415.6,2500.5 1415.6,2549.5" fill="#ff00ff"/>
<polygon points="1431.0,2581.4 1474.0,2556.9 1474.0,2605.9" fill="#ff00ff"/>
<polygon points="1489.4,2608.7 1532.4,2584.2 1532.4,2633.2" fill="#ff00ff"/>
<polygon points="1547.8,2636.0 1590.8,2611.5 1590.8,2660.5" fill="#ff00ff"/>
<polygon points="1606.2,2685.4 1649.2,2660.9 1649.2,2709.9" fill="#ff00ff"/>
<polygon points="1664.6,2727.7 1707.6,2703.2 1707.6,2752.2" fill="#ff00ff"/>
<polygon points="1723.0,2752.6 1766.0,2728.1 1766.0,2777.1" fill="#ff00ff"/>
<polygon points="1781.4,2773.3 1824.4,2748.8 1824.4,2797.8" fill="#ff00ff"/>
</g>
<g clip-path="url(#clipB)">
<polyline points="291.5,2802.3 320.7,2802.3 349.9,2802.3 379.1,2799.0 408.3,2792.4 425.0,2777.4 441.7,2740.1 456.3,2677.9 466.7,2621.6 479.2,2454.1 491.8,2238.5 500.1,2139.0 508.4,2056.1 516.8,2014.7 525.1,2023.0 533.5,2072.7 541.8,2155.6 550.2,2288.3 558.5,2404.3 566.9,2495.5 575.2,2487.3 583.5,2467.4 600.2,2404.3 616.9,2346.3 625.3,2333.9 641.9,2354.6 658.6,2429.2 675.3,2512.1 692.0,2578.5 700.4,2587.6 717.0,2561.9 733.7,2537.0 758.8,2512.1 788.0,2537.0 817.2,2558.9 846.4,2541.1 875.6,2522.9 904.8,2508.0 913.1,2505.7 934.0,2514.9 963.2,2532.9 992.4,2551.9 1021.6,2561.9 1050.8,2572.2 1080.0,2582.6 1109.2,2592.7 1138.4,2607.5 1167.6,2619.3 1196.8,2615.8 1226.0,2598.9 1255.2,2553.6 1284.4,2507.7 1313.6,2491.4 1342.8,2488.3 1372.0,2516.3 1401.3,2550.7 1430.5,2578.5 1459.7,2603.5 1488.9,2618.2 1518.1,2630.9 1547.3,2644.8 1576.5,2656.5 1605.7,2673.8 1634.9,2690.6 1664.1,2711.1 1693.3,2728.2 1722.5,2740.1 1751.7,2753.0 1780.9,2760.8 1810.1,2768.7 1835.1,2771.6" fill="none" stroke="#3399d2" stroke-width="15.5" stroke-linejoin="round" stroke-linecap="round"/>
<polygon points="320.2,2802.3 277.2,2777.8 277.2,2826.8" fill="#3399d2"/>
<polygon points="378.6,2802.3 335.6,2777.8 335.6,2826.8" fill="#3399d2"/>
<polygon points="437.0,2792.4 394.0,2767.9 394.0,2816.9" fill="#3399d2"/>
<polygon points="495.4,2621.6 452.4,2597.1 452.4,2646.1" fill="#3399d2"/>
<polygon points="553.8,2023.0 510.8,1998.5 510.8,2047.5" fill="#3399d2"/>
<polygon points="612.2,2467.4 569.2,2442.9 569.2,2491.9" fill="#3399d2"/>
<polygon points="670.6,2354.6 627.6,2330.1 627.6,2379.1" fill="#3399d2"/>
<polygon points="729.0,2587.6 686.0,2563.1 686.0,2612.1" fill="#3399d2"/>
<polygon points="787.4,2512.1 744.4,2487.6 744.4,2536.6" fill="#3399d2"/>
<polygon points="845.8,2558.9 802.8,2534.4 802.8,2583.4" fill="#3399d2"/>
<polygon points="904.2,2522.9 861.2,2498.4 861.2,2547.4" fill="#3399d2"/>
<polygon points="962.7,2514.9 919.7,2490.4 919.7,2539.4" fill="#3399d2"/>
<polygon points="1021.1,2551.9 978.1,2527.4 978.1,2576.4" fill="#3399d2"/>
<polygon points="1079.5,2572.2 1036.5,2547.7 1036.5,2596.7" fill="#3399d2"/>
<polygon points="1137.9,2592.7 1094.9,2568.2 1094.9,2617.2" fill="#3399d2"/>
<polygon points="1196.3,2619.3 1153.3,2594.8 1153.3,2643.8" fill="#3399d2"/>
<polygon points="1254.7,2598.9 1211.7,2574.4 1211.7,2623.4" fill="#3399d2"/>
<polygon points="1313.1,2507.7 1270.1,2483.2 1270.1,2532.2" fill="#3399d2"/>
<polygon points="1371.5,2488.3 1328.5,2463.8 1328.5,2512.8" fill="#3399d2"/>
<polygon points="1429.9,2550.7 1386.9,2526.2 1386.9,2575.2" fill="#3399d2"/>
<polygon points="1488.3,2603.5 1445.3,2579.0 1445.3,2628.0" fill="#3399d2"/>
<polygon points="1546.7,2630.9 1503.7,2606.4 1503.7,2655.4" fill="#3399d2"/>
<polygon points="1605.1,2656.5 1562.1,2632.0 1562.1,2681.0" fill="#3399d2"/>
<polygon points="1663.6,2690.6 1620.6,2666.1 1620.6,2715.1" fill="#3399d2"/>
<polygon points="1722.0,2728.2 1679.0,2703.7 1679.0,2752.7" fill="#3399d2"/>
<polygon points="1780.4,2753.0 1737.4,2728.5 1737.4,2777.5" fill="#3399d2"/>
<polygon points="1838.8,2768.7 1795.8,2744.2 1795.8,2793.2" fill="#3399d2"/>
</g>
<g clip-path="url(#clipB)">
<polyline points="291.5,2802.3 320.7,2802.3 349.9,2802.3 379.1,2799.8 408.3,2794.0 425.0,2784.1 441.7,2755.0 456.3,2715.2 466.7,2665.5 479.2,2537.0 491.8,2329.7 500.1,2205.4 508.4,2089.3 516.8,2006.4 525.1,1973.2 533.5,2014.7 541.8,2105.9 550.2,2222.0 558.5,2338.0 566.9,2445.8 575.2,2479.0 583.5,2454.1 616.9,2255.1 631.9,2220.3 641.9,2228.6 662.0,2316.5 681.2,2384.8 693.7,2439.4 699.1,2464.9 708.7,2437.5 723.7,2384.8 745.8,2329.7 758.8,2309.0 767.1,2309.0 783.8,2338.0 800.5,2367.0 817.2,2381.1 833.9,2375.3 854.7,2354.6 875.6,2335.5 896.4,2309.0 913.1,2296.6 934.0,2304.9 959.0,2338.0 992.4,2381.6 1021.6,2404.3 1050.8,2425.6 1080.0,2441.7 1109.2,2459.4 1138.4,2487.3 1167.6,2508.0 1196.8,2503.8 1226.0,2479.0 1255.2,2420.9 1284.4,2357.9 1313.6,2329.7 1326.2,2325.6 1342.8,2328.3 1372.0,2371.2 1401.3,2427.7 1430.5,2470.7 1459.7,2510.0 1488.9,2537.0 1518.1,2561.2 1547.3,2578.5 1576.5,2597.9 1605.7,2624.0 1634.9,2649.1 1664.1,2669.6 1693.3,2687.3 1722.5,2707.0 1751.7,2723.4 1780.9,2721.9 1810.1,2718.7 1835.1,2716.9" fill="none" stroke="#00d888" stroke-width="15.5" stroke-linejoin="round" stroke-linecap="round"/>
<polygon points="291.5,2829.6 315.0,2788.6 268.0,2788.6" fill="#00d888"/>
<polygon points="349.9,2829.6 373.4,2788.6 326.4,2788.6" fill="#00d888"/>
<polygon points="408.3,2821.3 431.8,2780.3 384.8,2780.3" fill="#00d888"/>
<polygon points="466.7,2692.8 490.2,2651.8 443.2,2651.8" fill="#00d888"/>
<polygon points="525.1,2000.6 548.6,1959.6 501.6,1959.6" fill="#00d888"/>
<polygon points="583.5,2481.4 607.0,2440.4 560.0,2440.4" fill="#00d888"/>
<polygon points="641.9,2255.9 665.4,2214.9 618.4,2214.9" fill="#00d888"/>
<polygon points="700.4,2488.6 723.9,2447.6 676.9,2447.6" fill="#00d888"/>
<polygon points="758.8,2336.3 782.3,2295.3 735.3,2295.3" fill="#00d888"/>
<polygon points="817.2,2408.5 840.7,2367.5 793.7,2367.5" fill="#00d888"/>
<polygon points="875.6,2362.9 899.1,2321.9 852.1,2321.9" fill="#00d888"/>
<polygon points="934.0,2332.2 957.5,2291.2 910.5,2291.2" fill="#00d888"/>
<polygon points="992.4,2409.0 1015.9,2368.0 968.9,2368.0" fill="#00d888"/>
<polygon points="1050.8,2452.9 1074.3,2411.9 1027.3,2411.9" fill="#00d888"/>
<polygon points="1109.2,2486.7 1132.7,2445.7 1085.7,2445.7" fill="#00d888"/>
<polygon points="1167.6,2535.3 1191.1,2494.3 1144.1,2494.3" fill="#00d888"/>
<polygon points="1226.0,2506.3 1249.5,2465.3 1202.5,2465.3" fill="#00d888"/>
<polygon points="1284.4,2385.3 1307.9,2344.3 1260.9,2344.3" fill="#00d888"/>
<polygon points="1342.8,2355.7 1366.3,2314.7 1319.3,2314.7" fill="#00d888"/>
<polygon points="1401.3,2455.1 1424.8,2414.1 1377.8,2414.1" fill="#00d888"/>
<polygon points="1459.7,2537.3 1483.2,2496.3 1436.2,2496.3" fill="#00d888"/>
<polygon points="1518.1,2588.5 1541.6,2547.5 1494.6,2547.5" fill="#00d888"/>
<polygon points="1576.5,2625.3 1600.0,2584.3 1553.0,2584.3" fill="#00d888"/>
<polygon points="1634.9,2676.4 1658.4,2635.4 1611.4,2635.4" fill="#00d888"/>
<polygon points="1693.3,2714.6 1716.8,2673.6 1669.8,2673.6" fill="#00d888"/>
<polygon points="1751.7,2750.7 1775.2,2709.7 1728.2,2709.7" fill="#00d888"/>
<polygon points="1810.1,2746.1 1833.6,2705.1 1786.6,2705.1" fill="#00d888"/>
</g>
<g fill="#000">
<rect x="287.6" y="1762.2" width="7.2" height="1251.7"/>
<rect x="287.6" y="1762.2" width="1551.7" height="7.6"/>
<rect x="1832.2" y="1762.2" width="7.1" height="1251.7"/>
<rect x="287.6" y="3005.3" width="1551.7" height="8.6"/>
</g>
<text transform="translate(265.5,2824.5) scale(1,1.04)" text-anchor="end" style="font-family:'Liberation Serif','Times New Roman',serif;font-weight:bold;font-size:72px">0.0</text>
<text transform="translate(265.5,2410.0) scale(1,1.04)" text-anchor="end" style="font-family:'Liberation Serif','Times New Roman',serif;font-weight:bold;font-size:72px">0.5</text>
<text transform="translate(265.5,1995.4) scale(1,1.04)" text-anchor="end" style="font-family:'Liberation Serif','Times New Roman',serif;font-weight:bold;font-size:72px">1.0</text>
<text transform="translate(374.9,3092) scale(1,1.03)" text-anchor="middle" style="font-family:'Liberation Serif','Times New Roman',serif;font-weight:bold;font-size:71px">400</text>
<text transform="translate(792.1,3092) scale(1,1.03)" text-anchor="middle" style="font-family:'Liberation Serif','Times New Roman',serif;font-weight:bold;font-size:71px">500</text>
<text transform="translate(1209.3,3092) scale(1,1.03)" text-anchor="middle" style="font-family:'Liberation Serif','Times New Roman',serif;font-weight:bold;font-size:71px">600</text>
<text transform="translate(1626.5,3092) scale(1,1.03)" text-anchor="middle" style="font-family:'Liberation Serif','Times New Roman',serif;font-weight:bold;font-size:71px">700</text>
<text x="1063.3" y="3212.6" text-anchor="middle" style="font-family:'Liberation Serif','Times New Roman',serif;font-weight:bold;font-size:77px">Wavelength (nm)</text>
<text transform="translate(147.3,2392.5) rotate(-90)" x="0" y="0" text-anchor="middle" style="font-family:'Liberation Serif','Times New Roman',serif;font-weight:bold;font-size:77px">Nomalized EL Intensity (a.u.)</text>
<text x="38.8" y="1787.5" style="font-family:'Liberation Serif','Times New Roman',serif;font-weight:bold;font-size:106px">(b)</text>
<line x1="1567" y1="1817.2" x2="1695" y2="1817.2" stroke="#000000" stroke-width="16" stroke-linecap="round"/>
<rect x="1613.6" y="1799.7" width="35.0" height="35.0" fill="#000000"/>
<text x="1713.5" y="1837.5" textLength="56" lengthAdjust="spacingAndGlyphs" style="font-family:'Liberation Serif','Times New Roman',serif;font-weight:bold;font-size:58.5px">10</text>
<line x1="1567" y1="1890.7" x2="1695" y2="1890.7" stroke="#ff0000" stroke-width="16" stroke-linecap="round"/>
<circle cx="1631.1" cy="1890.7" r="18.5" fill="#ff0000"/>
<text x="1713.5" y="1911.0" textLength="56" lengthAdjust="spacingAndGlyphs" style="font-family:'Liberation Serif','Times New Roman',serif;font-weight:bold;font-size:58.5px">11</text>
<line x1="1567" y1="1964.2" x2="1695" y2="1964.2" stroke="#0000ff" stroke-width="16" stroke-linecap="round"/>
<polygon points="1631.1,1936.9 1654.6,1977.9 1607.6,1977.9" fill="#0000ff"/>
<text x="1713.5" y="1984.5" textLength="56" lengthAdjust="spacingAndGlyphs" style="font-family:'Liberation Serif','Times New Roman',serif;font-weight:bold;font-size:58.5px">12</text>
<line x1="1567" y1="2037.7" x2="1695" y2="2037.7" stroke="#00d888" stroke-width="16" stroke-linecap="round"/>
<polygon points="1631.1,2065.0 1654.6,2024.0 1607.6,2024.0" fill="#00d888"/>
<text x="1713.5" y="2058.0" textLength="56" lengthAdjust="spacingAndGlyphs" style="font-family:'Liberation Serif','Times New Roman',serif;font-weight:bold;font-size:58.5px">13</text>
<line x1="1567" y1="2111.2" x2="1695" y2="2111.2" stroke="#ff00ff" stroke-width="16" stroke-linecap="round"/>
<polygon points="1602.4,2111.2 1645.4,2086.7 1645.4,2135.7" fill="#ff00ff"/>
<text x="1713.5" y="2131.5" textLength="56" lengthAdjust="spacingAndGlyphs" style="font-family:'Liberation Serif','Times New Roman',serif;font-weight:bold;font-size:58.5px">14</text>
<line x1="1567" y1="2184.7" x2="1695" y2="2184.7" stroke="#3399d2" stroke-width="16" stroke-linecap="round"/>
<polygon points="1659.8,2184.7 1616.8,2160.2 1616.8,2209.2" fill="#3399d2"/>
<text x="1713.5" y="2205.0" textLength="56" lengthAdjust="spacingAndGlyphs" style="font-family:'Liberation Serif','Times New Roman',serif;font-weight:bold;font-size:58.5px">15</text>
</svg>
</body></html>
